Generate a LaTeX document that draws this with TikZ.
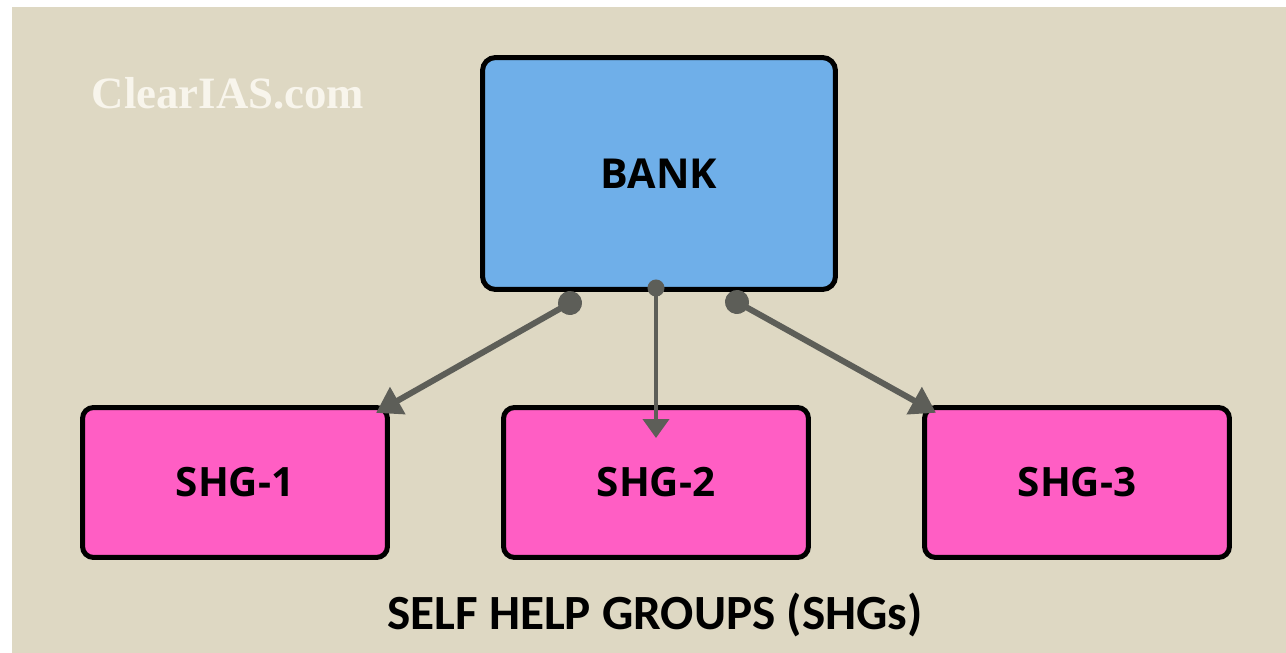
\documentclass[tikz,border=0pt]{standalone}
\usepackage{fontspec}
\setmainfont{Open Sans}
\newfontfamily\captionfont{Carlito}
\newfontfamily\logofont{Liberation Serif}
\usetikzlibrary{arrows.meta}

\definecolor{paper}{HTML}{DED8C3}
\definecolor{bankblue}{HTML}{6FAFE9}
\definecolor{shgpink}{HTML}{FF5EC4}
\definecolor{linkgray}{HTML}{5D5E58}
\definecolor{logowhite}{HTML}{F8F5EC}

\tikzstyle{bank}=[rectangle,draw=black,line width=0.1cm,rounded corners=0.26cm,fill=bankblue,minimum width=7.06cm,minimum height=4.64cm,font=\bfseries\fontsize{23.5}{28}\selectfont]
\tikzstyle{shg}=[rectangle,draw=black,line width=0.1cm,rounded corners=0.22cm,fill=shgpink,minimum width=6.1cm,minimum height=3cm,font=\bfseries\fontsize{23}{28}\selectfont]
\tikzstyle{link} = [draw,line width=0.12cm,linkgray,shorten <=-0.24cm,shorten >=-0.32cm,{Circle[length=0.48cm]}-{Triangle[length=0.5cm,width=0.6cm]}]
\tikzstyle{thinlink} = [draw,line width=0.08cm,linkgray,shorten <=-0.17cm,shorten >=-0.66cm,{Circle[length=0.34cm]}-{Triangle[length=0.38cm,width=0.52cm]}]

\begin{document}
\begin{tikzpicture}[x=0.02cm,y=-0.02cm]
			% Background
			\useasboundingbox[fill=white] (0,0) rectangle (1286,653);
			\fill[paper] (12,7) rectangle (1286,653);
			\node[font=\logofont\bfseries\fontsize{25.5}{30}\selectfont,text=logowhite] (logo) at (228,93) {ClearIAS.com};
			% The bank and the groups
			\node[bank] (bank) at (659,173.5) {BANK};
			\node[shg] (shg1) at (235,482.5) {SHG-1};
			\node[shg] (shg2) at (656,482.5) {SHG-2};
			\node[shg] (shg3) at (1077,482.5) {SHG-3};
			\node[font=\captionfont\bfseries\fontsize{28}{32}\selectfont] (caption) at (655,615) {SELF HELP GROUPS (SHGs)};
			% Ports under the bank
			\coordinate (pl) at (570,303);
			\coordinate (pm) at (656,288);
			\coordinate (pr) at (737,302);
			% Connect the bank with the groups
			\foreach \source/ \dest in {pl/shg1.north east, pr/shg3.north west}
				\path[link] (\source) -- (\dest);
			\path[thinlink] (pm) -- (shg2.north);
		\end{tikzpicture}
\end{document}
